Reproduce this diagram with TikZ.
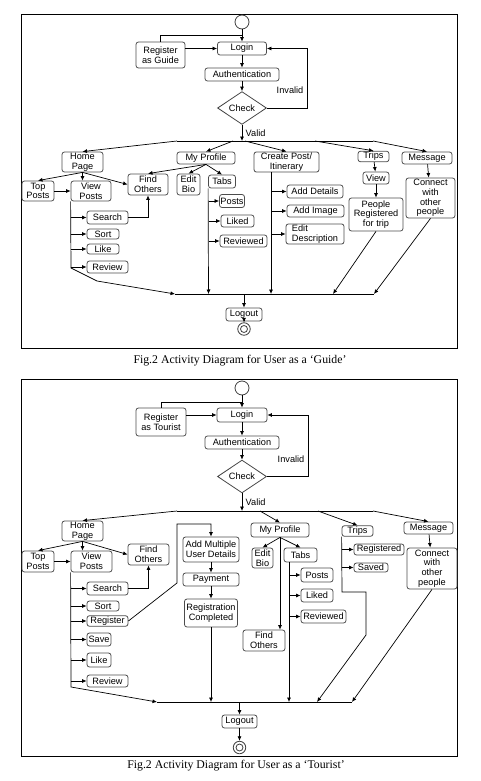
\documentclass[tikz,border=0pt]{standalone}
\usepackage{fontspec}
\setmainfont{Liberation Sans}
\newfontfamily\capfont{Liberation Serif}
\usetikzlibrary{arrows.meta,shapes.geometric}

\begin{document}
\begin{tikzpicture}[x=1pt,y=-1pt,line width=0.7pt,
    >={Latex[length=4.5pt,width=4pt]},
    act/.style 2 args={rectangle, rounded corners=2.5pt, draw=black!70, line width=0.8pt,
        minimum width=#1pt, minimum height=#2pt, inner sep=1pt, align=center,
        font=\fontsize{9.2}{9.6}\selectfont},
    check/.style 2 args={diamond, draw=black!75, line width=0.8pt,
        minimum width=#1pt, minimum height=#2pt, inner sep=0pt,
        font=\fontsize{9.2}{9.6}\selectfont},
    start/.style={circle, draw=black!75, line width=0.8pt, minimum size=14pt, inner sep=0pt},
    stop/.style={circle, draw=black!75, line width=0.8pt, minimum size=12.5pt, inner sep=0pt,
        path picture={\draw[black!75, line width=0.8pt] (path picture bounding box.center) circle (3.5pt);}},
    lbl/.style={font=\fontsize{9.2}{9.6}\selectfont},
    caption/.style={font=\capfont\fontsize{11.8}{13}\selectfont}]
    \useasboundingbox (0,0) rectangle (481,781);

    % ---- Guide ----
    \draw (21,14) rectangle (457,348);
    \node[start] (gStart) at (242,22) {};
    \coordinate (gJoin) at (242,35);
    \node[act={49}{13}] (gLogin) at (242,48.5) {Login};
    \node[act={49}{26}] (gReg) at (160.5,55) {Register\\as Guide};
    \node[act={74}{13}] (gAuth) at (242,74.5) {Authentication};
    \node[check={49}{26}] (gCheck) at (242,108) {Check};
    \coordinate (gInv) at (307,48.5);
    \coordinate (gValid) at (242,141);
    \coordinate (gF1) at (177,141);
    \coordinate (gF2) at (233,141);
    \coordinate (gF3) at (245,141);
    \coordinate (gF4) at (315,141);
    \coordinate (gF5) at (373,141);
    \node[act={41}{20}] (gHome) at (82.5,162) {Home\\Page};
    \node[act={58}{12}] (gProfile) at (206,158) {My Profile};
    \node[act={65}{20}] (gCreate) at (286.5,162) {Create Post/\\Itinerary};
    \node[act={31}{10}] (gTrips) at (373.5,156.5) {Trips};
    \node[act={50}{12}] (gMessage) at (427,158) {Message};
    \node[act={32}{20}] (gTop) at (38,191) {Top\\Posts};
    \node[act={40}{20}] (gView) at (91,191) {View\\Posts};
    \node[act={40}{21}] (gFind) at (148,184.5) {Find\\Others};
    \node[act={23}{21}] (gBio) at (188.5,184.5) {Edit\\Bio};
    \node[act={27}{13}] (gTabs) at (222,181.5) {Tabs};
    \node[act={41}{13}] (gSearch) at (107.5,217.5) {Search};
    \node[act={32}{10}] (gSort) at (103,234) {Sort};
    \node[act={32}{10}] (gLike) at (103,249) {Like};
    \node[act={41}{12}] (gReview) at (107.5,267) {Review};
    \node[act={22}{13}] (gPosts) at (232,201) {Posts};
    \node[act={33}{12}] (gLiked) at (237.5,221) {Liked};
    \node[act={47}{12}] (gReviewed) at (243.5,241) {Reviewed};
    \node[act={56}{13}] (gDetails) at (315,191.5) {Add Details};
    \node[act={57}{12}] (gImage) at (315.5,211) {Add Image};
    \node[act={58}{20}, align=left] (gEdit) at (315,234) {Edit\\Description};
    \node[act={26}{12}] (gSee) at (376,178) {View};
    \node[act={54}{33}] (gPeople) at (376,214.5) {People\\Registered\\for trip};
    \node[act={49}{40}] (gConnect) at (430.5,198) {Connect\\with\\other\\people};
    \coordinate (gJ1) at (175,294);
    \coordinate (gJ2) at (208.5,294);
    \coordinate (gJ3) at (271,294);
    \coordinate (gJ4) at (333,294);
    \coordinate (gJ5) at (374,294);
    \coordinate (gJm) at (244,294);
    \node[act={36}{13}] (gLogout) at (244,314.5) {Logout};
    \node[stop] (gEnd) at (244,329) {};
    \node[caption] (gCap) at (240,361) {Fig.2 Activity Diagram for User as a ‘Guide’};

    \draw (gReg.north) |- (gJoin);
    \draw[->] (gStart) -- (gLogin);
    \draw[->] (gReg.east |- gLogin) -- (gLogin);
    \draw[->] (gLogin) -- (gAuth);
    \draw[->] (gAuth) -- (gCheck);
    \draw[->] (gCheck.east) -| node[lbl,pos=0.65,left] {Invalid} (gInv) -- (gLogin.east);
    \draw[->] (gCheck) -- node[lbl,right] {Valid} (gValid);
    \draw (gF1) -- (gF5);
    \draw[->] (gF1) -- (gHome.north);
    \draw[->] (gF2) -- (gProfile.north);
    \draw[->] (gF3) -- (gCreate.north);
    \draw[->] (gF4) -- (gTrips.north);
    \draw[->] (gF5) -- (gMessage.north);
    \draw[->] (gHome.south) -- (gTop.north);
    \draw[->] (gHome.south) -- (gHome.south |- gView.north);
    \draw[->] (gHome.south) -- (gFind.west);
    \draw[->] (gTop) -- (gView);
    \draw[->] (gView.south west) -- (71,268) -- (97,281) -- (gJ1);
    \draw[->] (gView.south west |- gSearch) -- (gSearch);
    \draw[->] (gView.south west |- gSort) -- (gSort);
    \draw[->] (gView.south west |- gLike) -- (gLike);
    \draw[->] (gView.south west |- gReview) -- (gReview);
    \draw[->] (gSearch) -| (gFind);
    \draw[->] (gProfile.south) -- (gFind.north);
    \draw[->] (gProfile.south) -- (gBio.north);
    \draw[->] (gProfile.south) -- (gTabs.north);
    \draw[->] (gTabs.south west) -- (gJ2);
    \draw[->] (gJ2 |- gPosts) -- (gPosts);
    \draw[->] (gJ2 |- gLiked) -- (gLiked);
    \draw[->] (gJ2 |- gReviewed) -- (gReviewed);
    \draw[->] (gCreate.south -| gJ3) -- (gJ3);
    \draw[->] (gJ3 |- gDetails) -- (gDetails);
    \draw[->] (gJ3 |- gImage) -- (gImage);
    \draw[->] (gJ3 |- gEdit) -- (gEdit);
    \draw[->] (gTrips) -- (gSee);
    \draw[->] (gSee) -- (gPeople);
    \draw[->] (gMessage) -- (gConnect);
    \draw[->] (gPeople.south) -- (gJ4);
    \draw[->] (gConnect.south) -- (gJ5);
    \draw (gJ1) -- (gJ5);
    \draw[->] (gJm) -- (gLogout);
    \draw[->] (gLogout) -- (gEnd);

    % ---- Tourist ----
    \draw (21,379) rectangle (457,756);
    \node[start] (tStart) at (242,388) {};
    \coordinate (tJoin) at (242,402);
    \node[act={50}{14}] (tLogin) at (242,415) {Login};
    \node[act={50}{28}] (tReg) at (161,422) {Register\\as Tourist};
    \node[act={74}{13}] (tAuth) at (242,442.5) {Authentication};
    \node[check={49}{27}] (tCheck) at (242,476.5) {Check};
    \coordinate (tInv) at (308,415);
    \coordinate (tValid) at (242,511);
    \coordinate (tF1) at (177,511);
    \coordinate (tF2) at (260,511);
    \coordinate (tF3) at (318,511);
    \coordinate (tF4) at (373,511);
    \node[act={41}{20}] (tHome) at (82.5,531) {Home\\Page};
    \node[act={32}{21}] (tTop) at (38,561.5) {Top\\Posts};
    \node[act={41}{21}] (tView) at (91.5,561.5) {View\\Posts};
    \node[act={41}{21}] (tFind) at (148.5,554.5) {Find\\Others};
    \node[act={41}{13}] (tSearch) at (107.5,588.5) {Search};
    \node[act={32}{10}] (tSort) at (103,606) {Sort};
    \node[act={41}{10}] (tRegister) at (107.5,621) {Register};
    \node[act={24}{13}] (tSave) at (99,639.5) {Save};
    \node[act={24}{14}] (tLike) at (99,660) {Like};
    \node[act={41}{12}] (tReview) at (107.5,681) {Review};
    \node[act={56}{25}] (tMulti) at (211,549.5) {Add Multiple\\User Details};
    \node[act={56}{13}] (tPay) at (211,579.5) {Payment};
    \node[act={53}{28}] (tDone) at (211,613) {Registration\\Completed};
    \node[act={58}{14}] (tProfile) at (280,530) {My Profile};
    \node[act={21}{20}] (tBio) at (262.5,558) {Edit\\Bio};
    \node[act={33}{14}] (tTabs) at (300.5,555) {Tabs};
    \node[act={32}{14}] (tPosts) at (317,575) {Posts};
    \node[act={32}{13}] (tLiked) at (317,595.5) {Liked};
    \node[act={45}{13}] (tReviewed) at (323.5,616.5) {Reviewed};
    \node[act={42}{21}] (tFind2) at (264,640.5) {Find\\Others};
    \node[act={31}{10}] (tTrips) at (357.5,531) {Trips};
    \node[act={50}{11}] (tSigned) at (379,549.5) {Registered};
    \node[act={34}{9}] (tSaved) at (371,567.5) {Saved};
    \node[act={49}{12}] (tMessage) at (428.5,528) {Message};
    \node[act={50}{41}] (tConnect) at (432,568.5) {Connect\\with\\other\\people};
    \coordinate (tJ1) at (157,702);
    \coordinate (tJ2) at (211,702);
    \coordinate (tJ3) at (289,702);
    \coordinate (tJ4) at (317,702);
    \coordinate (tJ5) at (352,702);
    \coordinate (tJm) at (239.5,702);
    \node[act={35}{13}] (tLogout) at (239.5,721.5) {Logout};
    \node[stop] (tEnd) at (239.5,747.5) {};
    \node[caption] (tCap) at (236,766) {Fig.2 Activity Diagram for User as a ‘Tourist’};

    \draw (tReg.north) |- (tJoin);
    \draw[->] (tStart) -- (tLogin);
    \draw[->] (tReg.east |- tLogin) -- (tLogin);
    \draw[->] (tLogin) -- (tAuth);
    \draw[->] (tAuth) -- (tCheck);
    \draw[->] (tCheck.east) -| node[lbl,pos=0.64,left] {Invalid} (tInv) -- (tLogin.east);
    \draw[->] (tCheck) -- node[lbl,right] {Valid} (tValid);
    \draw (tF1) -- (tF4);
    \draw[->] (tF1) -- (tHome.north);
    \draw[->] (tF2) -- (tProfile.north);
    \draw[->] (tF3) -- (tTrips.north);
    \draw[->] (tF4) -- (tMessage.north);
    \draw[->] (tHome.south) -- (tTop.north);
    \draw[->] (tHome.south) -- (tHome.south |- tView.north);
    \draw[->] (tHome.south) -- (tFind.west);
    \draw[->] (tTop) -- (tView);
    \draw[->] (tView.south west) -- (71,687) -- (tJ1);
    \draw[->] (tView.south west |- tSearch) -- (tSearch);
    \draw[->] (tView.south west |- tSort) -- (tSort);
    \draw[->] (tView.south west |- tRegister) -- (tRegister);
    \draw[->] (tView.south west |- tSave) -- (tSave);
    \draw[->] (tView.south west |- tLike) -- (tLike);
    \draw[->] (tView.south west |- tReview) -- (tReview);
    \draw[->] (tSearch) -| (tFind);
    \draw[->] (tRegister.east) -- (177,583) -- (177,524) -| (tMulti.north);
    \draw[->] (tMulti) -- (tPay);
    \draw[->] (tPay) -- (tDone);
    \draw[->] (tDone) -- (tJ2);
    \draw[->] (tProfile.south) -- (tBio.north);
    \draw[->] (tProfile.south) -- (tTabs.north);
    \draw[->] (tProfile.south) -- (tProfile.south |- tFind2.north);
    \draw[->] (tTabs.south -| tJ3) -- (tJ3);
    \draw[->] (tJ3 |- tPosts) -- (tPosts);
    \draw[->] (tJ3 |- tLiked) -- (tLiked);
    \draw[->] (tJ3 |- tReviewed) -- (tReviewed);
    \draw[->] (tTrips.south west) -- (342,592) -- (366,592) -- (366,635) -- (tJ4);
    \draw[->] (tTrips.south west |- tSigned) -- (tSigned);
    \draw[->] (tTrips.south west |- tSaved) -- (tSaved);
    \draw[->] (tMessage) -- (tConnect);
    \draw[->] (tConnect.south) -- (tJ5);
    \draw (tJ1) -- (tJ5);
    \draw[->] (tJm) -- (tLogout);
    \draw[->] (tLogout) -- (tEnd);
\end{tikzpicture}
\end{document}
